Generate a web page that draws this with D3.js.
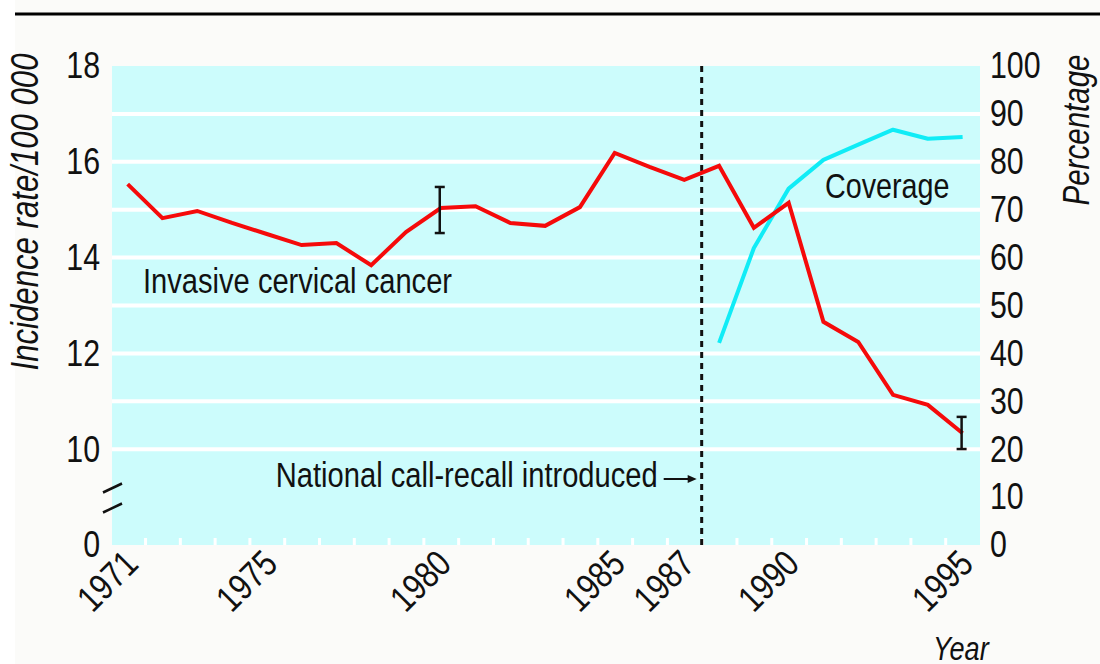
<!DOCTYPE html>
<html>
<head>
<meta charset="utf-8">
<script src="https://cdn.jsdelivr.net/npm/d3@7"></script>
<style>
  html, body { margin: 0; padding: 0; background: #ffffff; }
  svg text { font-family: "Liberation Sans", Arial, sans-serif; fill: #111; }
</style>
</head>
<body>
<div id="plot"></div>
<script>
// data
const years = [1971, 1972, 1973, 1974, 1975, 1976, 1977, 1978, 1979, 1980, 1981, 1982, 1983,
  1984, 1985, 1986, 1987, 1988, 1989, 1990, 1991, 1992, 1993, 1994, 1995];
const incidence = [15.54, 14.83, 14.98, 14.73, 14.5, 14.27, 14.31, 13.85, 14.54, 15.04, 15.08, 14.73, 14.67,
  15.06, 16.19, 15.9, 15.63, 15.92, 14.63, 15.15, 12.67, 12.25, 11.15, 10.94, 10.35];

const coverageYears = [1988, 1989, 1990, 1991, 1992, 1993, 1994, 1995];
const coverage = [42.2, 62, 74.4, 80.4, 83.6, 86.7, 84.8, 85.2];

const errYears = [1980, 1995];
const errLow = [14.52, 10.02];
const errHigh = [15.48, 10.69];

const xLabelYears = [1971, 1975, 1980, 1985, 1987, 1990, 1995];
const leftTicks = [0, 10, 12, 14, 16, 18];
const rightTicks = [0, 10, 20, 30, 40, 50, 60, 70, 80, 90, 100];
const gridTicks = [20, 30, 40, 50, 60, 70, 80, 90];
const yearBounds = [1971.5, 1972.5, 1973.5, 1974.5, 1975.5, 1976.5, 1977.5, 1978.5, 1979.5, 1980.5,
  1981.5, 1982.5, 1983.5, 1984.5, 1985.5, 1986.5, 1987.5, 1988.5, 1989.5, 1990.5, 1991.5,
  1992.5, 1993.5, 1994.5];
const callRecallYear = 1987.5;

const width = 1100;
const height = 664;
const plot = { left: 112, right: 980, top: 66, bottom: 545 };

// the original uses a condensed face, squeeze the regular one to match
const narrow = 0.82;
const condense = (sel) => {
  sel.each(function() {
    const len = this.getComputedTextLength();
    d3.select(this)
      .attr('textLength', len * narrow)
      .attr('lengthAdjust', 'spacingAndGlyphs');
  });
};

const svg = d3.select('#plot')
  .append('svg')
  .attr('width', width)
  .attr('height', height);

// page background and top rule
svg.append('rect')
  .attr('x', 15).attr('y', 0)
  .attr('width', width - 15).attr('height', height)
  .attr('fill', '#fbfbf9');

svg.append('line')
  .attr('x1', 15).attr('x2', width)
  .attr('y1', 14).attr('y2', 14)
  .attr('stroke', '#000').attr('stroke-width', 3);

// scales
const x = d3.scaleLinear()
  .domain([1970.55, 1995.5])
  .range([plot.left, plot.right]);

// left axis has a break between 0 and 10
const yLeft = d3.scaleLinear()
  .domain([0, 10, 18])
  .range([plot.bottom, 450, plot.top]);

const yRight = d3.scaleLinear()
  .domain([0, 100])
  .range([plot.bottom, plot.top]);

// plot background
svg.append('rect')
  .attr('x', plot.left).attr('y', plot.top)
  .attr('width', plot.right - plot.left)
  .attr('height', plot.bottom - plot.top)
  .attr('fill', '#ccfcfc');

// white grid lines
svg.append('g')
  .selectAll('line')
  .data(gridTicks)
  .join('line')
  .attr('x1', plot.left).attr('x2', plot.right)
  .attr('y1', d => yRight(d)).attr('y2', d => yRight(d))
  .attr('stroke', '#ffffff')
  .attr('stroke-width', 4);

// white tick marks on the bottom edge
svg.append('g')
  .attr('transform', `translate(0,${plot.bottom})`)
  .call(d3.axisBottom(x).tickValues(yearBounds).tickSize(-7).tickFormat(''))
  .call(g => g.select('.domain').remove())
  .selectAll('line')
  .attr('stroke', '#ffffff')
  .attr('stroke-width', 3);

// left axis
svg.append('g')
  .attr('transform', `translate(${plot.left},0)`)
  .call(d3.axisLeft(yLeft).tickValues(leftTicks).tickSize(0).tickPadding(12))
  .call(g => g.select('.domain').remove())
  .selectAll('text')
  .attr('fill', '#111')
  .style('font-size', '37px')
  .call(condense);

// right axis
svg.append('g')
  .attr('transform', `translate(${plot.right},0)`)
  .call(d3.axisRight(yRight).tickValues(rightTicks).tickSize(0).tickPadding(10))
  .call(g => g.select('.domain').remove())
  .selectAll('text')
  .attr('fill', '#111')
  .style('font-size', '37px')
  .call(condense);

// x axis labels, rotated
svg.append('g')
  .attr('transform', `translate(0,${plot.bottom})`)
  .call(d3.axisBottom(x).tickValues(xLabelYears).tickSize(0).tickFormat(d3.format('d')))
  .call(g => g.select('.domain').remove())
  .selectAll('text')
  .attr('fill', '#111')
  .attr('x', 0).attr('y', 0).attr('dy', 0)
  .attr('text-anchor', 'end')
  .attr('transform', 'translate(12,21) rotate(-45)')
  .style('font-size', '37px')
  .call(condense);

// axis break marks
const breakMid = (yLeft(0) + yLeft(10)) / 2;
svg.append('g')
  .selectAll('line')
  .data([-10, 10])
  .join('line')
  .attr('x1', plot.left - 9).attr('x2', plot.left + 10)
  .attr('y1', d => breakMid + d + 5).attr('y2', d => breakMid + d - 4)
  .attr('stroke', '#111')
  .attr('stroke-width', 2.5);

// dashed line where call-recall was introduced
svg.append('line')
  .attr('x1', x(callRecallYear)).attr('x2', x(callRecallYear))
  .attr('y1', plot.top).attr('y2', plot.bottom)
  .attr('stroke', '#111')
  .attr('stroke-width', 3)
  .attr('stroke-dasharray', '6,5');

// coverage line
const covLine = d3.line()
  .x((d, i) => x(coverageYears[i]))
  .y(d => yRight(d));

svg.append('path')
  .datum(coverage)
  .attr('d', covLine)
  .attr('fill', 'none')
  .attr('stroke', '#10ecf6')
  .attr('stroke-width', 4)
  .attr('stroke-linejoin', 'round');

// incidence line
const incLine = d3.line()
  .x((d, i) => x(years[i]))
  .y(d => yLeft(d));

svg.append('path')
  .datum(incidence)
  .attr('d', incLine)
  .attr('fill', 'none')
  .attr('stroke', '#f50a0a')
  .attr('stroke-width', 4)
  .attr('stroke-linejoin', 'miter');

// error bars
const errG = svg.append('g')
  .attr('stroke', '#111')
  .attr('stroke-width', 2.5);

errYears.forEach((yr, i) => {
  const cx = x(yr) - 1;
  errG.append('line')
    .attr('x1', cx).attr('x2', cx)
    .attr('y1', yLeft(errLow[i])).attr('y2', yLeft(errHigh[i]));
  [errLow[i], errHigh[i]].forEach(v => {
    errG.append('line')
      .attr('x1', cx - 5).attr('x2', cx + 5)
      .attr('y1', yLeft(v)).attr('y2', yLeft(v));
  });
});

// annotations
svg.append('text')
  .attr('x', 143).attr('y', 293)
  .style('font-size', '35.5px')
  .text('Invasive cervical cancer')
  .call(condense);

svg.append('text')
  .attr('x', 825).attr('y', 198)
  .style('font-size', '35px')
  .text('Coverage')
  .call(condense);

svg.append('text')
  .attr('x', x(callRecallYear) - 44).attr('y', 487)
  .attr('text-anchor', 'end')
  .style('font-size', '35.5px')
  .text('National call-recall introduced')
  .call(condense);

// small arrow pointing at the dashed line
const arrowY = 479;
const arrowEnd = x(callRecallYear) - 5;
svg.append('line')
  .attr('x1', arrowEnd - 33).attr('x2', arrowEnd - 4)
  .attr('y1', arrowY).attr('y2', arrowY)
  .attr('stroke', '#111').attr('stroke-width', 2);
svg.append('path')
  .attr('d', `M${arrowEnd},${arrowY} L${arrowEnd - 9},${arrowY - 4} L${arrowEnd - 9},${arrowY + 4} Z`)
  .attr('fill', '#111');

// axis titles
svg.append('text')
  .attr('transform', 'translate(38,212) rotate(-90)')
  .attr('text-anchor', 'middle')
  .style('font-size', '38px')
  .style('font-style', 'italic')
  .text('Incidence rate/100 000')
  .call(condense);

svg.append('text')
  .attr('transform', 'translate(1089,130) rotate(-90)')
  .attr('text-anchor', 'middle')
  .style('font-size', '36px')
  .style('font-style', 'italic')
  .text('Percentage')
  .call(condense);

svg.append('text')
  .attr('x', 933).attr('y', 660)
  .style('font-size', '33px')
  .style('font-style', 'italic')
  .text('Year')
  .call(condense);
</script>
</body>
</html>
